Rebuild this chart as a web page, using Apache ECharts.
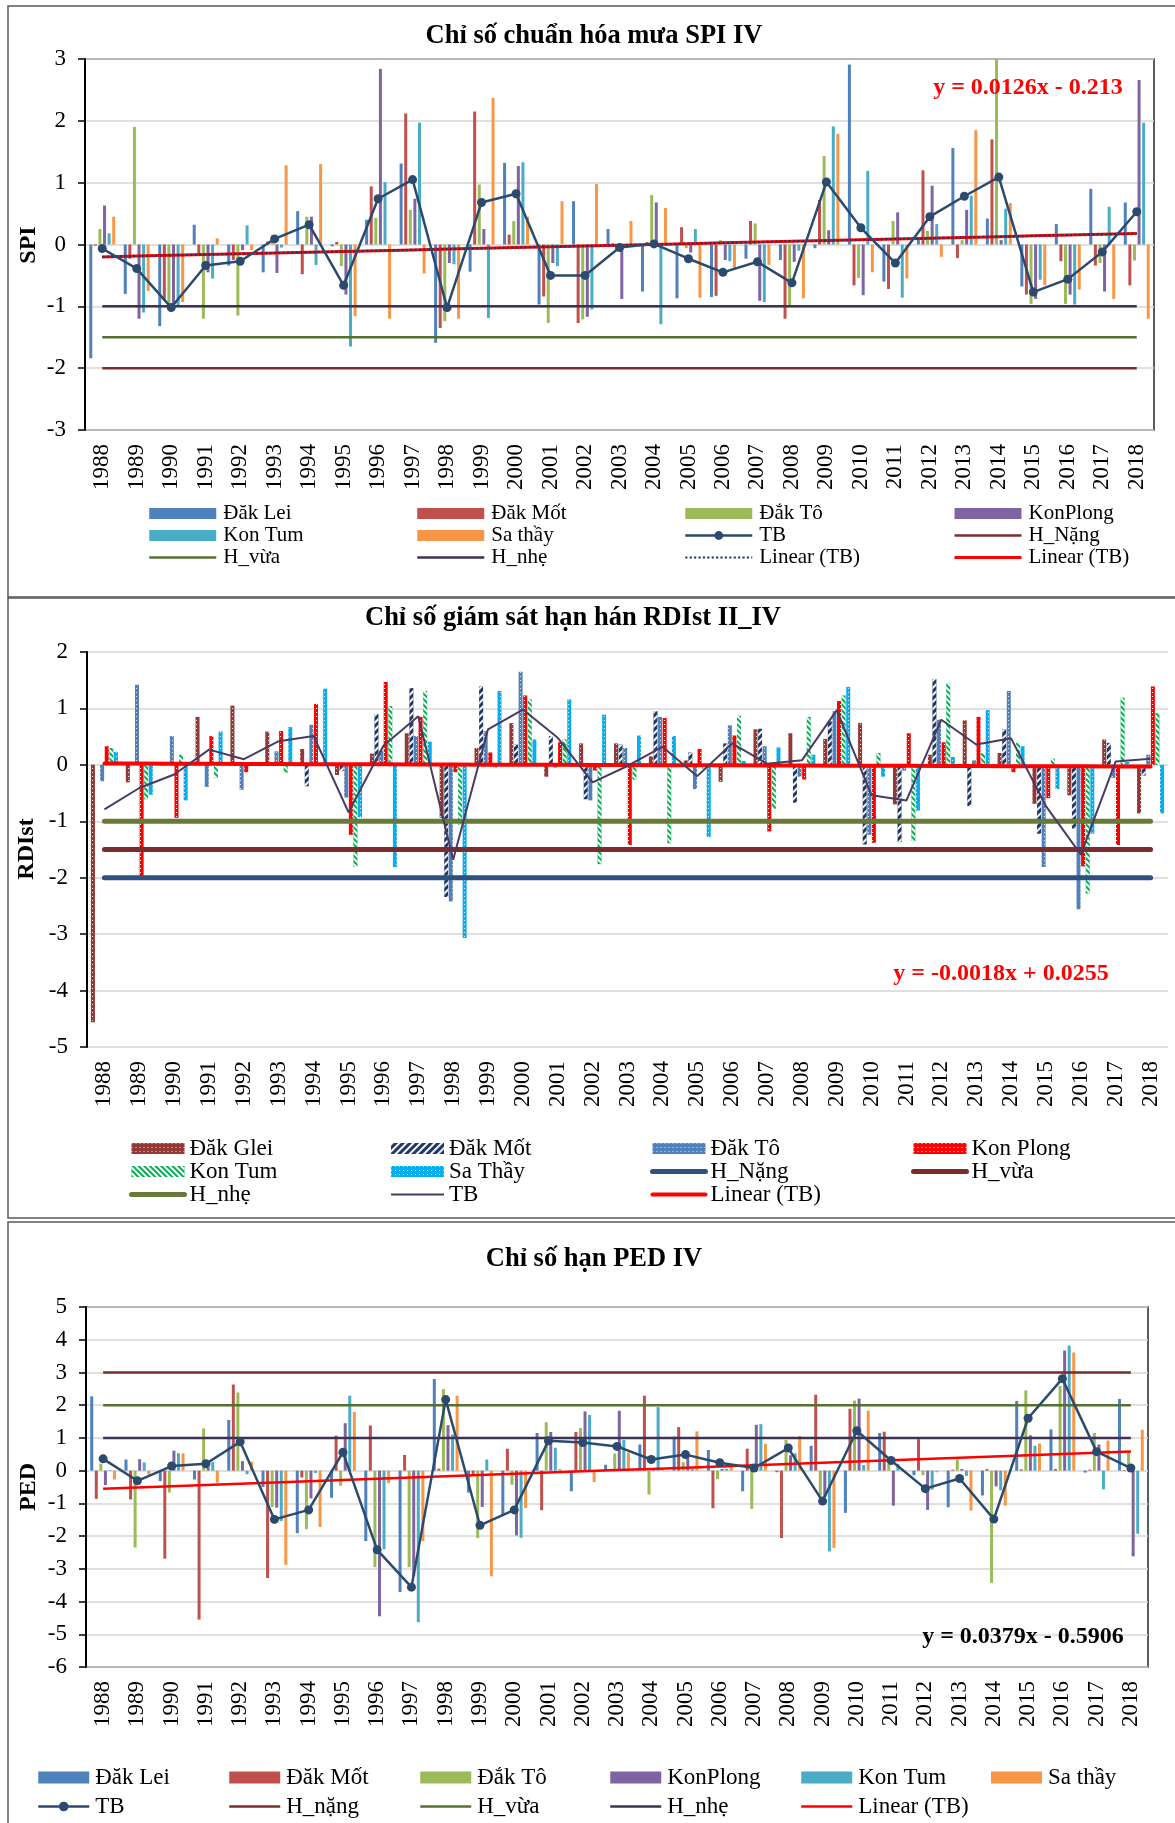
<!DOCTYPE html>
<html>
<head>
<meta charset="utf-8">
<script src="https://cdn.jsdelivr.net/npm/echarts@6/dist/echarts.min.js"></script>
<style>
  html, body { margin: 0; padding: 0; background: #fff; }
  #chart { width: 1175px; height: 1823px; }
</style>
</head>
<body>
<div id="chart"></div>
<script>
const FONT = '"Liberation Serif", "Times New Roman", serif';

const years = ['1988','1989','1990','1991','1992','1993','1994','1995','1996','1997','1998',
  '1999','2000','2001','2002','2003','2004','2005','2006','2007','2008','2009','2010',
  '2011','2012','2013','2014','2015','2016','2017','2018'];

// ---- SPI IV ----
const spiDakLei   = [-1.84,-0.80,-1.32,0.32,-0.34,-0.45,0.54,-0.03,0.40,1.31,-1.59,-0.44,1.32,-0.97,0.70,0.25,-0.76,-0.87,-0.85,-0.23,-0.25,-0.06,2.91,-0.60,0.10,1.56,0.42,-0.68,0.33,0.90,0.68];
const spiDakMot   = [-0.02,-0.23,-0.90,-0.15,-0.25,0.05,-0.48,0.04,0.94,2.12,-1.35,2.15,0.16,-0.84,-1.27,0.02,0.04,0.28,-0.83,0.38,-1.20,0.72,-0.66,-0.72,1.20,-0.22,1.70,-0.81,-0.27,-0.34,-0.66];
const spiDakTo    = [0.25,1.90,-1.00,-1.20,-1.15,0.15,0.45,-0.35,0.43,0.56,-1.24,0.97,0.38,-1.27,-1.21,-0.05,0.80,-0.06,0.07,0.34,-0.98,1.43,-0.54,0.38,0.22,0.07,3.00,-0.96,-0.96,-0.30,-0.26];
const spiKonPlong = [0.63,-1.20,-1.00,-0.45,-0.09,-0.46,0.45,-0.81,2.84,0.74,-0.30,0.25,1.27,-0.30,-1.17,-0.88,0.68,-0.13,-0.25,-0.91,-0.28,0.23,-0.82,0.52,0.95,0.56,0.07,-0.88,-0.81,-0.76,2.66];
const spiKonTum   = [0.18,-1.10,-1.00,-0.55,0.31,-0.05,-0.33,-1.65,1.01,1.97,-0.32,-1.19,1.33,-0.35,-1.05,-0.02,-1.29,0.25,-0.27,-0.93,-0.10,1.91,1.19,-0.86,0.33,0.79,0.58,-0.57,-0.97,0.61,1.97];
const spiSaThay   = [0.45,-0.75,-0.93,0.10,-0.09,1.28,1.30,-1.16,-1.20,-0.47,-1.20,2.37,0.45,0.70,0.98,0.38,0.59,-0.86,-0.40,-0.33,-0.87,1.79,-0.45,-0.55,-0.20,1.85,0.67,-0.66,-0.73,-0.88,-1.20];
const spiTB       = [-0.065,-0.39,-1.02,-0.34,-0.27,0.09,0.32,-0.66,0.74,1.05,-1.02,0.68,0.82,-0.50,-0.50,-0.05,0.01,-0.23,-0.45,-0.28,-0.62,1.01,0.27,-0.30,0.45,0.78,1.09,-0.77,-0.56,-0.12,0.53];
const spiNang = -2, spiVua = -1.5, spiNhe = -1;
const spiSlope = 0.0126, spiIntercept = -0.213;

// ---- RDIst II_IV ----
const rdiDakGlei  = [-4.56,-0.31,-0.01,0.85,1.05,0.59,0.28,-0.18,0.20,0.56,-0.94,0.30,0.74,-0.21,0.38,0.38,0.15,0.08,-0.30,0.63,0.56,0.46,0.74,-0.70,0.18,0.79,0.21,-0.69,-0.54,0.45,-0.86];
const rdiDakMot   = [null,null,null,null,null,null,-0.38,-0.11,0.90,1.36,-2.34,1.39,0.36,0.51,-0.61,0.36,0.95,0.22,0.38,0.64,-0.67,0.77,-1.41,-1.37,1.52,-0.73,0.63,-1.22,-1.13,0.39,-0.19];
const rdiDakTo    = [-0.29,1.42,0.51,-0.39,-0.44,0.24,0.71,-0.58,0.25,0.51,-2.42,0.60,1.65,-0.05,-0.63,0.30,0.85,-0.43,0.70,0.33,-0.21,0.95,-1.24,-0.10,0.80,0.08,1.31,-1.81,-2.56,-0.23,0.18];
const rdiKonPlong = [0.33,-2.04,-0.94,0.51,-0.13,0.60,1.08,-1.24,1.47,0.85,-0.13,0.22,1.23,0.40,-0.10,-1.42,0.83,0.28,0.52,-1.18,-0.26,1.13,-1.38,0.56,0.40,0.85,-0.13,-0.59,-1.80,-1.42,1.39];
const rdiKonTum   = [0.30,-0.61,0.18,-0.23,0.02,-0.14,0.02,-1.81,1.04,1.31,-1.06,-0.05,1.16,0.45,-1.76,-0.26,-1.39,-0.07,0.87,-0.78,0.85,1.23,0.21,-1.35,1.44,0.21,0.39,0.11,-2.28,1.19,0.92];
const rdiSaThay   = [0.23,-0.53,-0.63,0.59,0.02,0.67,1.35,-0.93,-1.81,0.41,-3.07,1.31,0.45,1.16,0.89,0.52,0.51,-1.28,0.07,0.31,0.18,1.38,-0.21,-0.81,0.14,0.97,0.33,-0.43,-1.22,0.05,-0.86];
const rdiTB       = [-0.79,-0.41,-0.17,0.27,0.10,0.42,0.51,-0.84,0.34,0.86,-1.68,0.63,0.98,0.48,-0.31,-0.02,0.32,-0.20,0.38,0.02,0.08,0.97,-0.54,-0.63,0.80,0.36,0.47,-0.73,-1.59,0.06,0.11];
const rdiNang = -2, rdiVua = -1.5, rdiNhe = -1;
const rdiSlope = -0.0018, rdiIntercept = 0.0255;

// ---- PED IV ----
const pedDakLei   = [2.27,0.34,-0.32,-0.27,1.55,-0.50,-1.91,-0.83,-2.15,-3.71,2.80,-0.67,-1.34,1.15,-0.63,0.18,0.80,1.04,0.63,-0.63,-0.05,0.76,-1.29,1.15,-0.14,-1.12,-0.76,2.13,1.26,-0.06,2.19];
const pedDakMot   = [-0.86,-0.88,-2.69,-4.55,2.63,-3.28,-0.21,1.07,1.38,0.48,0.06,-0.11,0.67,-1.21,1.18,0.05,2.29,1.33,-1.15,0.67,-2.06,2.32,1.89,1.19,0.96,0.03,0.05,0.04,0.05,0.03,0.02];
const pedDakTo    = [0.21,-2.35,-0.67,1.29,2.39,-1.11,-1.79,-0.46,-2.95,-2.95,2.49,-2.06,-0.43,1.48,1.30,0.52,-0.73,0.26,-0.26,-1.17,0.94,-0.76,2.14,0.21,-0.14,0.34,-3.43,2.45,2.59,1.15,0.58];
const pedKonPlong = [-0.44,0.35,0.61,0.10,0.29,-1.13,-0.85,1.45,-4.45,-3.23,1.39,-1.11,-1.98,1.18,1.81,1.83,0.05,0.49,0.05,1.40,0.47,-0.80,2.20,-1.07,-1.20,0.05,-0.48,1.08,3.67,0.80,-2.62];
const pedKonTum   = [0.02,0.25,0.53,0.27,-0.11,-1.54,-0.07,2.29,-2.40,-4.63,1.10,0.34,-2.05,0.70,1.70,0.94,1.94,0.05,0.05,1.42,0.53,-2.47,0.17,0.20,-0.58,-0.16,-0.60,0.76,3.82,-0.57,-1.93];
const pedSaThay   = [-0.27,-0.12,0.53,-0.37,0.27,-2.88,-1.72,1.79,-0.38,-2.15,2.29,-3.23,-1.14,0.05,-0.35,0.55,0.05,1.20,0.10,0.82,1.06,-2.36,1.83,0.05,-0.05,-1.22,-1.07,0.83,3.61,0.92,1.25];
const pedTB       = [0.36,-0.31,0.14,0.21,0.88,-1.49,-1.20,0.56,-2.42,-3.56,2.17,-1.67,-1.20,0.91,0.86,0.74,0.34,0.49,0.24,0.08,0.69,-0.93,1.22,0.31,-0.55,-0.24,-1.48,1.60,2.81,0.58,0.08];
const pedNang = 3, pedVua = 2, pedNhe = 1;
const pedSlope = 0.0379, pedIntercept = -0.5906;

// Names in the three panels repeat, so zero-width marks keep the series apart;
// the legend strips them before drawing.
const Z2 = '\u200B', Z3 = '\u200B\u200B', ZL = '\u200C';
const strip = n => n.replace(/[\u200B\u200C]/g, '');

function bars(name, data, color, ax, width, gap, decal) {
  const s = { name, type: 'bar', xAxisIndex: ax, yAxisIndex: ax, data,
    barWidth: width, barGap: gap, itemStyle: { color }, silent: true };
  if (decal) s.itemStyle.decal = decal;
  return s;
}
function level(name, value, color, width, ax, cap) {
  return { name, type: 'line', xAxisIndex: ax, yAxisIndex: ax,
    data: years.map(() => value), symbol: 'none',
    lineStyle: { color, width, cap: cap || 'butt' }, itemStyle: { color }, silent: true };
}
function trend(name, slope, intercept, color, width, type, ax, cap) {
  return { name, type: 'line', xAxisIndex: ax, yAxisIndex: ax,
    data: years.map((_, i) => +(slope * (i + 1) + intercept).toFixed(4)), symbol: 'none',
    lineStyle: { color, width, type, cap: cap || 'butt' }, itemStyle: { color }, silent: true };
}
function avgLine(name, data, color, width, ax, symbolSize) {
  return { name, type: 'line', xAxisIndex: ax, yAxisIndex: ax, data,
    symbol: symbolSize ? 'circle' : 'none', symbolSize: symbolSize || 0,
    lineStyle: { color, width }, itemStyle: { color }, silent: true };
}
function eqText(slope, intercept) {
  const sign = intercept < 0 ? '-' : '+';
  return 'y = ' + slope + 'x ' + sign + ' ' + Math.abs(intercept);
}

const dots = c => ({ symbol: 'rect', symbolSize: 1, color: c, dashArrayX: [1, 3], dashArrayY: [1, 3] });
const stripes = (c, rot, on, off) => ({ symbol: 'rect', symbolSize: 1, color: c,
  dashArrayX: [1, 0], dashArrayY: [on, off], rotation: rot });

const C = { lei: '#4F81BD', mot: '#C0504D', to: '#9BBB59', kp: '#8064A2', kt: '#4BACC6', sa: '#F79646',
  tb: '#2C4A6E', nang: '#7A2E2C', vua: '#56702F', nhe: '#3F3151' };

const series = [
  // SPI
  bars('Đăk Lei', spiDakLei, C.lei, 0, 3, '53%'),
  bars('Đăk Mốt', spiDakMot, C.mot, 0, 3, '53%'),
  bars('Đắk Tô', spiDakTo, C.to, 0, 3, '53%'),
  bars('KonPlong', spiKonPlong, C.kp, 0, 3, '53%'),
  bars('Kon Tum', spiKonTum, C.kt, 0, 3, '53%'),
  bars('Sa thầy', spiSaThay, C.sa, 0, 3, '53%'),
  level('H_Nặng', spiNang, C.nang, 2.5, 0),
  level('H_vừa', spiVua, C.vua, 2.5, 0),
  level('H_nhẹ', spiNhe, C.nhe, 2.5, 0),
  trend('Linear (TB)' + ZL, spiSlope, spiIntercept, '#FF0000', 3, 'solid', 0),
  trend('Linear (TB)', spiSlope, spiIntercept, '#1F3864', 2.2, 'dotted', 0),
  avgLine('TB', spiTB, C.tb, 2.5, 0, 9),

  // RDIst
  bars('Đăk Glei' + Z2, rdiDakGlei, '#953735', 1, 4, '15%', dots('rgba(255,255,255,0.8)')),
  bars('Đăk Mốt' + Z2, rdiDakMot, '#1F3864', 1, 4, '15%', stripes('rgba(255,255,255,0.95)', -Math.PI / 4, 1.5, 3)),
  bars('Đăk Tô' + Z2, rdiDakTo, '#4F81BD', 1, 4, '15%', dots('rgba(255,255,255,0.8)')),
  bars('Kon Plong' + Z2, rdiKonPlong, '#FF0000', 1, 4, '15%', dots('rgba(255,255,255,0.9)')),
  bars('Kon Tum' + Z2, rdiKonTum, '#00B050', 1, 4, '15%', stripes('#FFFFFF', Math.PI / 4, 2, 2)),
  bars('Sa Thầy' + Z2, rdiSaThay, '#00B0F0', 1, 4, '15%', dots('rgba(255,255,255,0.8)')),
  level('H_Nặng' + Z2, rdiNang, '#2E5180', 5, 1, 'round'),
  level('H_vừa' + Z2, rdiVua, '#7B2D2D', 5, 1, 'round'),
  level('H_nhẹ' + Z2, rdiNhe, '#677A38', 5, 1, 'round'),
  trend('Linear (TB)' + Z2, rdiSlope, rdiIntercept, '#FF0000', 4, 'solid', 1, 'round'),
  avgLine('TB' + Z2, rdiTB, '#4A3B63', 2, 1, 0),

  // PED
  bars('Đăk Lei' + Z3, pedDakLei, C.lei, 2, 3, '52%'),
  bars('Đăk Mốt' + Z3, pedDakMot, C.mot, 2, 3, '52%'),
  bars('Đắk Tô' + Z3, pedDakTo, C.to, 2, 3, '52%'),
  bars('KonPlong' + Z3, pedKonPlong, C.kp, 2, 3, '52%'),
  bars('Kon Tum' + Z3, pedKonTum, C.kt, 2, 3, '52%'),
  bars('Sa thầy' + Z3, pedSaThay, C.sa, 2, 3, '52%'),
  level('H_nặng' + Z3, pedNang, C.nang, 2.5, 2),
  level('H_vừa' + Z3, pedVua, C.vua, 2.5, 2),
  level('H_nhẹ' + Z3, pedNhe, C.nhe, 2.5, 2),
  trend('Linear (TB)' + Z3, pedSlope, pedIntercept, '#FF0000', 2.5, 'solid', 2),
  avgLine('TB' + Z3, pedTB, C.tb, 2.5, 2, 9)
];

const barNames = new Set(series.filter(s => s.type === 'bar').map(s => s.name));
const markerNames = new Set(series.filter(s => s.type === 'line' && s.symbol === 'circle').map(s => s.name));

function legendItem(n) {
  if (barNames.has(n)) return { name: n, icon: 'rect' };
  if (markerNames.has(n)) return { name: n };
  // plain lines: keep only the stroke in the legend key
  return { name: n, itemStyle: { opacity: 0 } };
}

function legendCol(left, top, names, w, h, gap, fs, tp) {
  return {
    left, top, orient: 'vertical', padding: 0, itemGap: gap, itemWidth: w, itemHeight: h,
    selectedMode: false, formatter: strip,
    lineStyle: { width: 'inherit' },
    textStyle: { fontFamily: FONT, fontSize: fs, color: '#000', padding: [0, 0, 0, tp] },
    data: names.map(legendItem)
  };
}

function xAx(grid) {
  return { type: 'category', gridIndex: grid, data: years, boundaryGap: true,
    axisLine: { show: false }, axisTick: { show: false }, splitLine: { show: false },
    axisLabel: { rotate: 90, interval: 0, margin: 14, fontFamily: FONT, fontSize: 23, color: '#000' } };
}
function yAx(grid, min, max) {
  return { type: 'value', gridIndex: grid, min, max, interval: 1,
    axisLine: { show: true, onZero: false, lineStyle: { color: '#000', width: 2 } },
    axisTick: { show: true, length: 7, lineStyle: { color: '#000', width: 1.5 } },
    splitLine: { show: true, lineStyle: { color: '#D6D6D6', width: 1.5 } },
    axisLabel: { margin: 19, fontFamily: FONT, fontSize: 23, color: '#000' } };
}

function txt(x, y, text, font, fill, rotation) {
  return { type: 'text', x, y, rotation: rotation || 0, silent: true, z: 100,
    style: { text, font, fill, textAlign: 'center', textVerticalAlign: 'middle' } };
}
function frame(y, h) {
  return { type: 'rect', silent: true, z: 0,
    shape: { x: 8, y, width: 1200, height: h },
    style: { fill: 'none', stroke: '#595959', lineWidth: 1.5 } };
}

const option = {
  animation: false,
  backgroundColor: '#fff',
  grid: [
    { left: 85, top: 59, width: 1069, height: 371, show: true, borderColor: '#262626', borderWidth: 1.5, backgroundColor: 'transparent' },
    { left: 87, top: 652, width: 1081, height: 395, show: false },
    { left: 86, top: 1307, width: 1062, height: 360, show: true, borderColor: '#262626', borderWidth: 1.5, backgroundColor: 'transparent' }
  ],
  xAxis: [xAx(0), xAx(1), xAx(2)],
  yAxis: [yAx(0, -3, 3), yAx(1, -5, 2), yAx(2, -6, 5)],
  legend: [
    legendCol(148, 503, ['Đăk Lei', 'Kon Tum', 'H_vừa'], 67, 11, 1, 21, 2),
    legendCol(416, 503, ['Đăk Mốt', 'Sa thầy', 'H_nhẹ'], 67, 11, 1, 21, 2),
    legendCol(684, 503, ['Đắk Tô', 'TB', 'Linear (TB)'], 67, 11, 1, 21, 2),
    legendCol(953, 503, ['KonPlong', 'H_Nặng', 'Linear (TB)' + ZL], 67, 11, 1, 21, 2),

    legendCol(129, 1137, ['Đăk Glei' + Z2, 'Kon Tum' + Z2, 'H_nhẹ' + Z2], 53, 11, 0, 23, 0),
    legendCol(390, 1137, ['Đăk Mốt' + Z2, 'Sa Thầy' + Z2, 'TB' + Z2], 53, 11, 0, 23, 0),
    legendCol(650, 1137, ['Đăk Tô' + Z2, 'H_Nặng' + Z2, 'Linear (TB)' + Z2], 53, 11, 0, 23, 0),
    legendCol(911, 1137, ['Kon Plong' + Z2, 'H_vừa' + Z2], 53, 11, 0, 23, 0),

    legendCol(37, 1766, ['Đăk Lei' + Z3, 'TB' + Z3], 51, 12, 6, 23, 1),
    legendCol(228, 1766, ['Đăk Mốt' + Z3, 'H_nặng' + Z3], 51, 12, 6, 23, 1),
    legendCol(419, 1766, ['Đắk Tô' + Z3, 'H_vừa' + Z3], 51, 12, 6, 23, 1),
    legendCol(609, 1766, ['KonPlong' + Z3, 'H_nhẹ' + Z3], 51, 12, 6, 23, 1),
    legendCol(800, 1766, ['Kon Tum' + Z3, 'Linear (TB)' + Z3], 51, 12, 6, 23, 1),
    legendCol(991, 1766, ['Sa thầy' + Z3], 51, 12, 6, 23, 1)
  ],
  graphic: { elements: [
    frame(6, 591), frame(598, 620), frame(1222, 620),
    txt(594, 36, 'Chỉ số chuẩn hóa mưa SPI IV', 'bold 26.5px ' + FONT, '#000'),
    txt(573, 618, 'Chỉ số giám sát hạn hán RDIst II_IV', 'bold 26.5px ' + FONT, '#000'),
    txt(594, 1259, 'Chỉ số hạn PED IV', 'bold 26.5px ' + FONT, '#000'),
    txt(29, 245, 'SPI', 'bold 24px ' + FONT, '#000', Math.PI / 2),
    txt(27, 849, 'RDIst', 'bold 24px ' + FONT, '#000', Math.PI / 2),
    txt(29, 1487, 'PED', 'bold 24px ' + FONT, '#000', Math.PI / 2),
    txt(1028, 88, eqText(spiSlope, spiIntercept), 'bold 24px ' + FONT, '#FF0000'),
    txt(1001, 974, eqText(rdiSlope, rdiIntercept), 'bold 24px ' + FONT, '#FF0000'),
    txt(1023, 1637, eqText(pedSlope, pedIntercept), 'bold 24px ' + FONT, '#000')
  ] },
  series
};

const chart = echarts.init(document.getElementById('chart'), null, { renderer: 'canvas' });
chart.setOption(option);
</script>
</body>
</html>
